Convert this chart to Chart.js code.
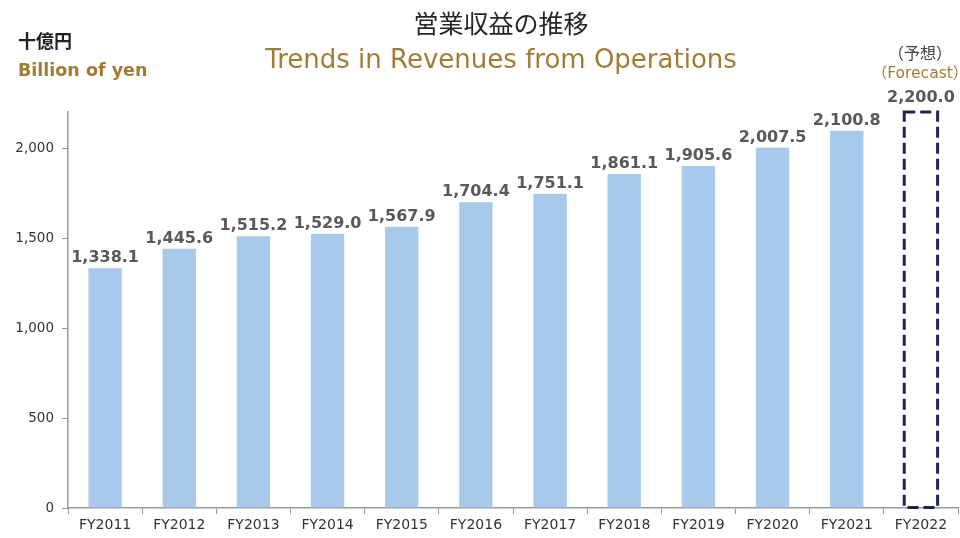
<!DOCTYPE html>
<html lang="ja">
<head>
<meta charset="UTF-8">
<title>営業収益の推移</title>
<script src="https://cdn.jsdelivr.net/npm/chart.js"></script>
<style>
    body { margin: 0; background: #fff; }
    #wrap { position: relative; width: 960px; height: 538px; }
    canvas { position: absolute; left: 0; top: 0; }
    .txt { position: absolute; white-space: nowrap; font-family: "DejaVu Sans", "Noto Sans CJK JP", sans-serif; line-height: 1; }
    #unitJa { left: 18px; top: 31px; font-size: 18px; font-weight: bold; color: #222; font-family: "Noto Sans CJK JP", sans-serif; }
    #unitEn { left: 18px; top: 62px; font-size: 17.5px; font-weight: bold; color: #a27c34; }
    #titleJa { left: 0; width: 1002px; text-align: center; top: 10px; font-size: 25px; color: #262626; font-family: "Noto Sans CJK JP", sans-serif; }
    #titleEn { left: 0; width: 1002px; text-align: center; top: 46px; font-size: 26px; color: #a27c34; }
    #fcJa { left: 870px; width: 100px; text-align: center; top: 44px; font-size: 16px; color: #444; font-family: "Noto Sans CJK JP", sans-serif; }
    #fcEn { left: 866px; width: 108px; text-align: center; top: 66px; font-size: 15.5px; color: #a27c34; }
</style>
</head>
<body>
<div id="wrap">
    <canvas id="revChart" width="960" height="538"></canvas>
    <div class="txt" id="unitJa">十億円</div>
    <div class="txt" id="unitEn">Billion of yen</div>
    <div class="txt" id="titleJa">営業収益の推移</div>
    <div class="txt" id="titleEn">Trends in Revenues from Operations</div>
    <div class="txt" id="fcJa">（予想）</div>
    <div class="txt" id="fcEn">（Forecast）</div>
</div>

<script>
    const years = ['FY2011', 'FY2012', 'FY2013', 'FY2014', 'FY2015', 'FY2016',
        'FY2017', 'FY2018', 'FY2019', 'FY2020', 'FY2021', 'FY2022'];
    const revenues = [1338.1, 1445.6, 1515.2, 1529.0, 1567.9, 1704.4,
        1751.1, 1861.1, 1905.6, 2007.5, 2100.8, 2200.0];
    const forecastIndex = 11; // FY2022 is a forecast
    const yTicks = [0, 500, 1000, 1500, 2000];

    const fmt = v => v.toLocaleString('en-US', { minimumFractionDigits: 1, maximumFractionDigits: 1 });

    // value labels (white box behind) + dashed outline for the forecast bar
    const barExtras = {
        id: 'barExtras',
        afterDatasetsDraw(chart) {
            const ctx = chart.ctx;
            const meta = chart.getDatasetMeta(0);
            meta.data.forEach((bar, i) => {
                const p = bar.getProps(['x', 'y', 'base', 'width'], true);
                if (i === forecastIndex) {
                    ctx.save();
                    ctx.strokeStyle = '#1c2656';
                    ctx.lineWidth = 3;
                    ctx.setLineDash([11, 5]);
                    ctx.strokeRect(p.x - p.width / 2, p.y, p.width, p.base - p.y);
                    ctx.restore();
                }
                const text = fmt(revenues[i]);
                const cy = p.y - (i === forecastIndex ? 14 : 9);
                ctx.save();
                ctx.font = 'bold 16px "DejaVu Sans"';
                const w = ctx.measureText(text).width;
                if (i !== forecastIndex) {
                    ctx.fillStyle = '#fff';
                    ctx.fillRect(p.x - w / 2 - 2, cy - 10, w + 4, 20);
                }
                ctx.fillStyle = '#595959';
                ctx.textAlign = 'center';
                ctx.textBaseline = 'middle';
                ctx.fillText(text, p.x, cy);
                ctx.restore();
            });
        }
    };

    new Chart(document.getElementById('revChart'), {
        type: 'bar',
        data: {
            labels: years,
            datasets: [{
                data: revenues,
                backgroundColor: revenues.map((v, i) => i === forecastIndex ? 'rgba(0,0,0,0)' : '#a9c9ea'),
                borderWidth: 0,
                barPercentage: 0.45,
                categoryPercentage: 1.0
            }]
        },
        options: {
            responsive: false,
            animation: false,
            layout: { padding: { top: 112, right: 2, left: 0, bottom: 0 } },
            plugins: { legend: { display: false }, tooltip: { enabled: false } },
            scales: {
                x: {
                    grid: { display: true, drawOnChartArea: false, offset: true, tickLength: 6, color: '#999' },
                    border: { color: '#999', width: 1.5 },
                    ticks: { color: '#333', font: { family: 'DejaVu Sans', size: 14 }, padding: 3 },
                    afterFit(scale) { scale.height = 30; }
                },
                y: {
                    min: 0,
                    max: 2200,
                    afterBuildTicks(scale) { scale.ticks = yTicks.map(v => ({ value: v })); },
                    grid: { display: true, drawOnChartArea: false, tickLength: 6, color: '#999' },
                    border: { color: '#999', width: 1.5 },
                    ticks: {
                        color: '#333',
                        font: { family: 'DejaVu Sans', size: 13.5 },
                        padding: 8,
                        callback: v => v.toLocaleString('en-US')
                    },
                    afterFit(scale) { scale.width = 68; }
                }
            }
        },
        plugins: [barExtras]
    });
</script>
</body>
</html>
